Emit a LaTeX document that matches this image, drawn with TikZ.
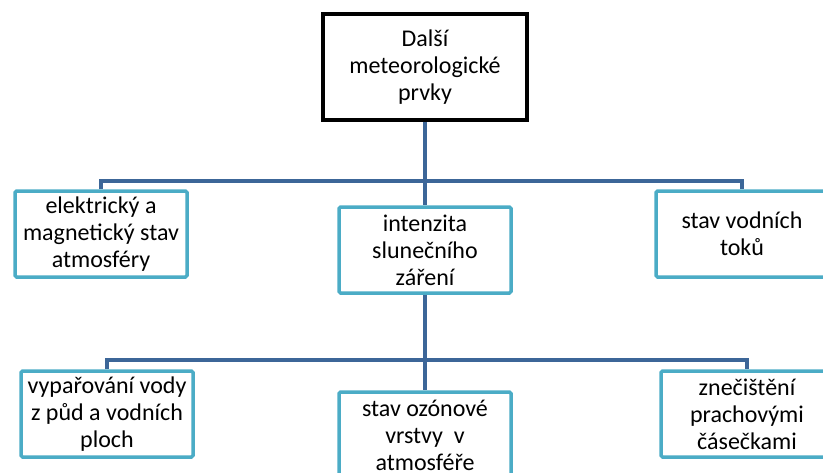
\documentclass[tikz,border=0pt]{standalone}
\usepackage{fontspec}
\setmainfont{Carlito}
\definecolor{boxblue}{RGB}{75,172,198}
\definecolor{linkblue}{RGB}{60,102,152}

\begin{document}
\begin{tikzpicture}[x=1pt,y=-1pt,
    topic/.style ={draw, line width=4pt, fill=white, minimum width=204pt, minimum height=106pt,
      align=center, inner sep=0pt, font=\fontsize{24}{27}\selectfont},
    item/.style ={draw=boxblue, line width=3.5pt, rounded corners=1.5pt, fill=white,
      minimum width=172pt, minimum height=86pt, align=center, inner sep=0pt,
      font=\fontsize{24}{27}\selectfont},
    link/.style ={draw=linkblue, line width=4pt}]
   \useasboundingbox (0,0) rectangle (823,472);
   \clip (0,0) rectangle (823,472);

   \node[topic] (A) at (425,67)  {Další\\meteorologické\\prvky};
   \node[item] (B) at (101,234)  {elektrický a\\magnetický stav\\atmosféry};
   \node[item] (C) at (425,250)  {intenzita\\slunečního\\záření};
   \node[item] (D) at (742,234)  {stav vodních\\toků};
   \node[item] (E) at (107,414)  {vypařování vody\\z půd a vodních\\ploch};
   \node[item] (F) at (425,435)  {stav ozónové\\vrstvy~~v\\atmosféře};
   \node[item] (G) at (747,414)  {znečištění\\prachovými\\čásečkami};
   \coordinate (H) at (425,181);
   \coordinate (I) at (425,360);

   \draw[link] (A) to  (C);
   \draw[link] (C) to  (F);
   \draw[link] (B.north) |- (H) -| (D.north);
   \draw[link] (E.north) |- (I) -| (G.north);
 \end{tikzpicture}
\end{document}
